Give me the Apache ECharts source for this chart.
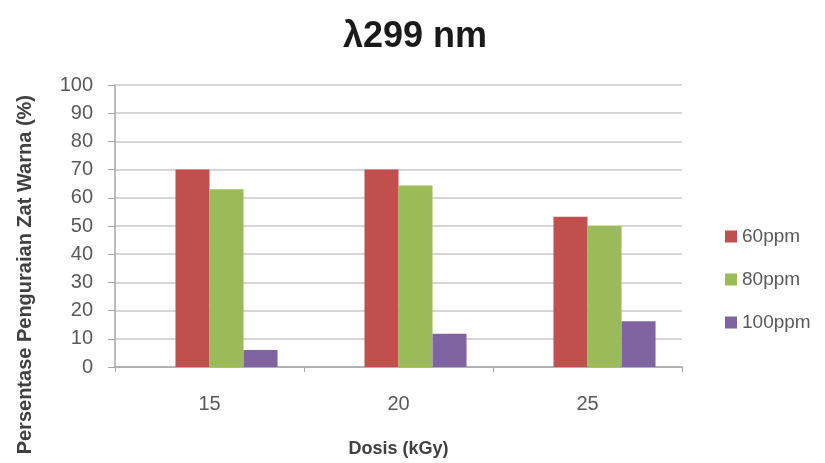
<!DOCTYPE html>
<html>
<head>
<meta charset="utf-8">
<script src="https://cdn.jsdelivr.net/npm/echarts@6/dist/echarts.min.js"></script>
<style>html,body{margin:0;padding:0;background:#fff}#c{width:825px;height:463px}</style>
</head>
<body>
<div id="c"></div>
<script>
var categories = ['15', '20', '25'];
var seriesNames = ['60ppm', '80ppm', '100ppm'];
var values60 = [70, 70, 53.3];
var values80 = [63, 64.4, 50];
var values100 = [6, 11.8, 16.2];
var yTicks = [0, 10, 20, 30, 40, 50, 60, 70, 80, 90, 100];
var titleText = 'λ299 nm';
var xTitle = 'Dosis (kGy)';
var yTitle = 'Persentase Penguraian Zat Warna (%)';

var colors = ['#C0504D', '#9BBB59', '#8064A2'];
var font = '"Liberation Sans", Arial, sans-serif';
var chart = echarts.init(document.getElementById('c'), null, {renderer: 'canvas'});
var dataSets = [values60, values80, values100];
var series = [{
  name: '_gap', type: 'bar', data: categories.map(function(){return null;}),
  barGap: '0%', barCategoryGap: '28%', silent: true
}];
seriesNames.forEach(function(n, i){
  series.push({
    name: n, type: 'bar', data: dataSets[i], barGap: '0%', barCategoryGap: '28%',
    itemStyle: {color: colors[i]}
  });
});
chart.setOption({
  animation: false,
  backgroundColor: '#ffffff',
  title: {
    text: titleText, left: 410, top: 14, textAlign: 'center',
    textStyle: {fontFamily: font, fontSize: 36, fontWeight: 'bold', color: '#1a1a1a'}
  },
  legend: {
    data: seriesNames, orient: 'vertical', left: 720, top: 222,
    itemWidth: 12, itemHeight: 12, itemGap: 24, icon: 'rect',
    textStyle: {fontFamily: font, fontSize: 19, color: '#595959'}
  },
  grid: {left: 115, right: 143, top: 85, bottom: 95, containLabel: false},
  xAxis: {
    type: 'category', data: categories,
    name: xTitle, nameLocation: 'middle', nameGap: 73,
    nameTextStyle: {fontFamily: font, fontSize: 18, fontWeight: 'bold', color: '#404040'},
    axisLine: {lineStyle: {color: '#a6a6a6', width: 1.5}},
    axisTick: {show: true, length: 5, inside: false, lineStyle: {color: '#a6a6a6'}},
    axisLabel: {fontFamily: font, fontSize: 20, color: '#595959', margin: 27}
  },
  yAxis: {
    type: 'value', min: yTicks[0], max: yTicks[yTicks.length - 1], interval: 10,
    axisLine: {show: true, lineStyle: {color: '#a6a6a6', width: 1.5}},
    axisTick: {show: true, length: 7, lineStyle: {color: '#a6a6a6'}},
    axisLabel: {fontFamily: font, fontSize: 20, color: '#595959', margin: 22},
    splitLine: {lineStyle: {color: '#c8c8c8', width: 1.5}}
  },
  graphic: [{
    type: 'text', left: 15, top: 95, rotation: Math.PI / 2,
    style: {text: yTitle, fontFamily: font, fontSize: 20, fontWeight: 'bold', fill: '#404040'}
  }],
  series: series
});
</script>
</body>
</html>
